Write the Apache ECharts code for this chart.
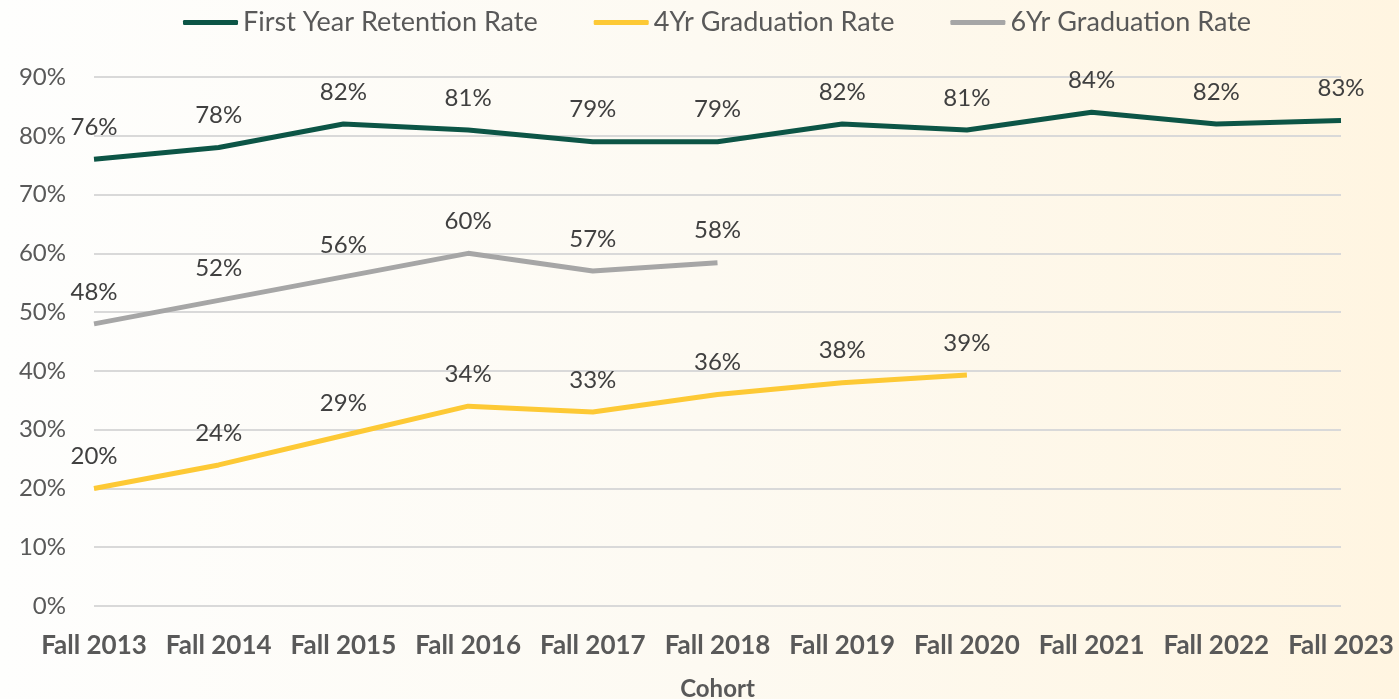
<!DOCTYPE html>
<html>
<head>
<meta charset="utf-8">
<script src="https://cdn.jsdelivr.net/npm/echarts@6/dist/echarts.min.js"></script>
<style>
  html, body { margin: 0; padding: 0; }
  body { background: linear-gradient(to right, #fefefd 0%, #fdfaf2 50%, #fff5e1 100%); }
  #chart { width: 1399px; height: 699px; }
</style>
</head>
<body>
<div id="chart"></div>
<script>
// cohort categories and rates (%)
const cohorts = ['Fall 2013', 'Fall 2014', 'Fall 2015', 'Fall 2016', 'Fall 2017', 'Fall 2018',
  'Fall 2019', 'Fall 2020', 'Fall 2021', 'Fall 2022', 'Fall 2023']
const retention = [76, 78, 82, 81, 79, 79, 82, 81, 84, 82, 82.6]
const grad4yr = [20, 24, 29, 34, 33, 36, 38, 39.3]
const grad6yr = [48, 52, 56, 60, 57, 58.4]
const yTicks = [0, 10, 20, 30, 40, 50, 60, 70, 80, 90]

const myChart = echarts.init(document.getElementById('chart'))
const fontFamily = 'Lato, "Open Sans", sans-serif'

// 数据标签
const dataLabel = {
  show: true,
  position: 'top',
  distance: 20,
  color: '#404040',
  fontSize: 24,
  fontFamily: fontFamily,
  formatter: (p) => Math.round(p.value) + '%'
}

function lineSeries (name, data, color) {
  return {
    name: name,
    type: 'line',
    data: data,
    symbol: 'circle',
    symbolSize: 0.01,
    showSymbol: true,
    smooth: false,
    lineStyle: { width: 5, color: color, cap: 'butt' },
    itemStyle: { color: color },
    label: dataLabel,
    emphasis: { disabled: true }
  }
}

const option = {
  backgroundColor: 'transparent',
  animation: false,
  textStyle: { fontFamily: fontFamily },
  legend: {
    top: 4,
    left: 178,
    itemWidth: 55,
    itemHeight: 5,
    itemGap: 56,
    icon: 'roundRect',
    textStyle: { color: '#595959', fontSize: 27, fontFamily: fontFamily },
    data: ['First Year Retention Rate', '4Yr Graduation Rate', '6Yr Graduation Rate']
  },
  grid: {
    left: 94,
    right: 58,
    top: 77,
    bottom: 93,
    containLabel: false,
    outerBoundsMode: 'none'
  },
  xAxis: {
    type: 'category',
    data: cohorts,
    boundaryGap: false,
    name: 'Cohort',
    nameLocation: 'middle',
    nameGap: 71,
    nameTextStyle: { color: '#595959', fontSize: 24, fontWeight: 'bold', fontFamily: fontFamily },
    axisLine: { show: false },
    axisTick: { show: false },
    axisLabel: { interval: 0, color: '#595959', fontSize: 26, fontWeight: 'bold', margin: 27, fontFamily: fontFamily }
  },
  yAxis: {
    type: 'value',
    min: yTicks[0],
    max: yTicks[yTicks.length - 1],
    interval: 10,
    axisLine: { show: false },
    axisTick: { show: false },
    axisLabel: { color: '#595959', fontSize: 24, margin: 28, formatter: '{value}%', fontFamily: fontFamily },
    splitLine: { show: true, lineStyle: { color: '#d9d9d9', width: 2 } }
  },
  series: [
    lineSeries('First Year Retention Rate', retention, '#0c5546'),
    lineSeries('4Yr Graduation Rate', grad4yr, '#fdc935'),
    lineSeries('6Yr Graduation Rate', grad6yr, '#a6a6a6')
  ]
}
myChart.setOption(option)
</script>
</body>
</html>
